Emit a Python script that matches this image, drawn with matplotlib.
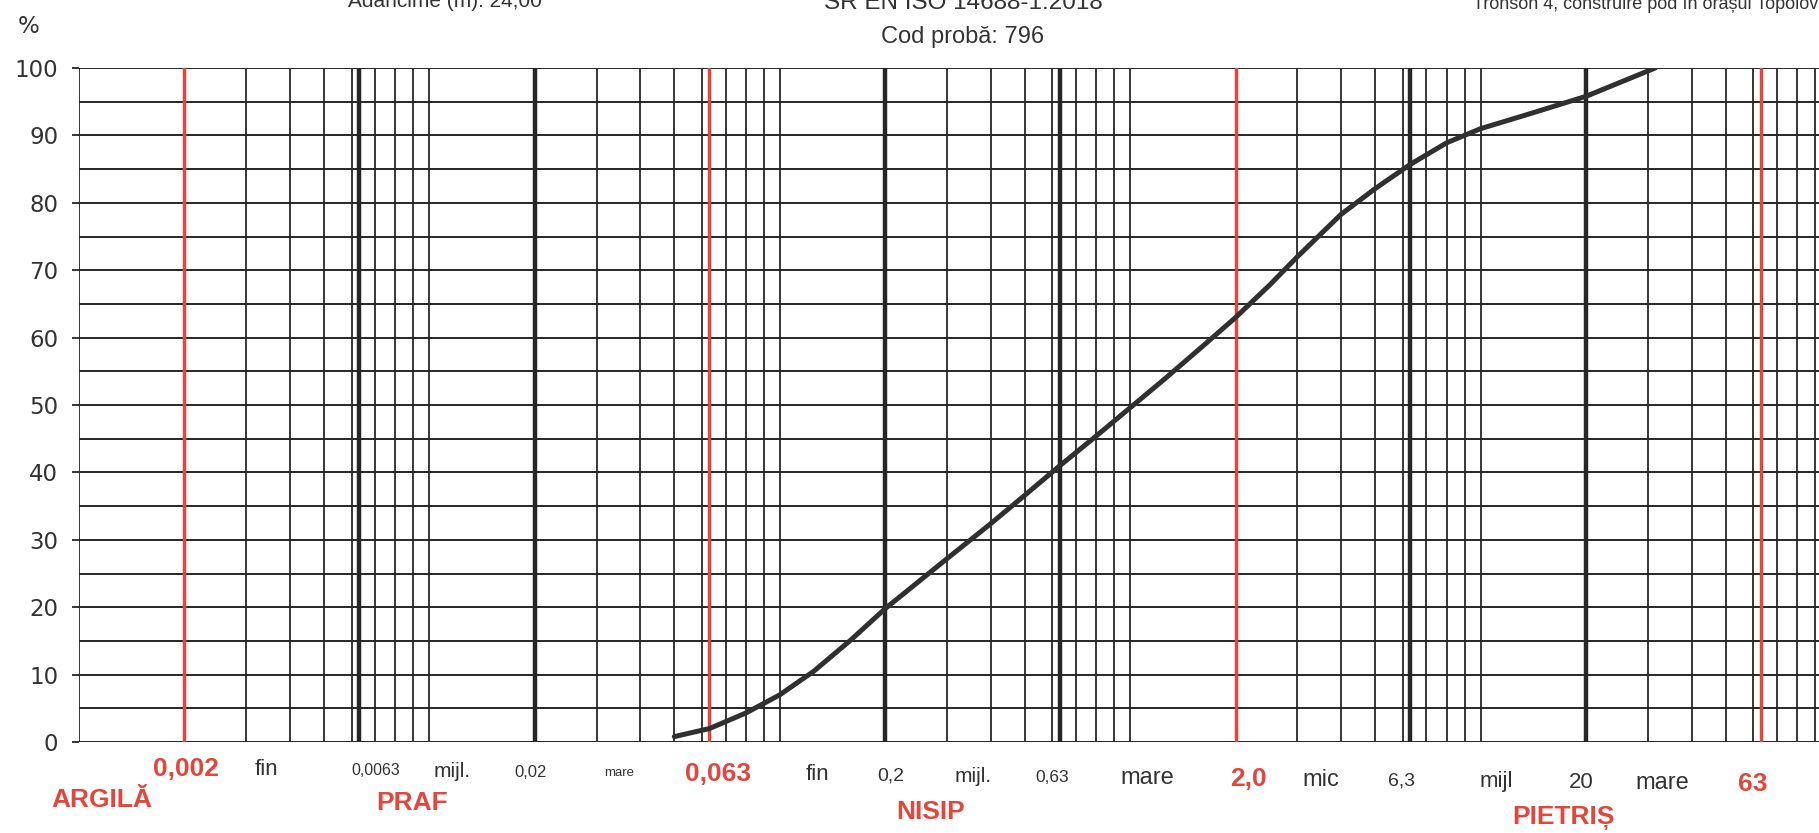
import numpy as np
import matplotlib.pyplot as plt
from matplotlib.transforms import blended_transform_factory

# curba granulometrica citita de pe scan (mm, % treceri)
grain_mm = [0.05, 0.063, 0.08, 0.1, 0.125, 0.16, 0.2, 0.3, 0.4, 0.5, 0.63,
            0.8, 1.0, 1.25, 1.6, 2.0, 2.5, 3.0, 4.0, 5.0, 6.3, 8.0, 10.0,
            14.0, 20.0, 31.5]
passing_pct = [0.8, 2.0, 4.3, 7.0, 10.5, 15.2, 19.8, 27.2, 32.4, 36.6, 41.0,
               45.4, 49.6, 53.8, 58.6, 63.0, 67.8, 72.0, 78.3, 82.1, 85.7, 88.9, 91.0,
               93.3, 95.8, 100.0]

# limite de fractiuni
red_limits = [0.002, 0.063, 2.0, 63.0]
thick_limits = [0.0063, 0.02, 0.2, 0.63, 6.3, 20.0]
decades = [0.001, 0.01, 0.1, 1.0, 10.0]
y_ticks = list(range(0, 101, 10))

size_labels = ["0,002", "fin", "0,0063", "mijl.", "0,02", "mare", "0,063", "fin",
               "0,2", "mijl.", "0,63", "mare", "2,0", "mic", "6,3", "mijl", "20",
               "mare", "63"]
fraction_labels = ["ARGILĂ", "PRAF", "NISIP", "PIETRIȘ"]

# asezarea etichetelor (pozitie pe axa granulelor, marime font)
size_label_x = [0.00202, 0.00342, 0.00704, 0.0116, 0.0195, 0.0348, 0.0666, 0.1277,
                0.2076, 0.356, 0.598, 1.117, 2.17, 3.51, 5.93, 11.07, 19.4, 33.0, 59.8]
size_label_fs = [19, 16, 11.5, 15, 12, 9.5, 19, 16, 14, 15, 12.5, 17, 19, 17, 14,
                 16, 16, 17, 19]
fraction_x = [0.00116, 0.0089, 0.27, 17.2]
fraction_y = [-0.086, -0.091, -0.104, -0.113]

RED = "#e2463c"
INK = "#262626"
TXT = "#333333"

plt.rcParams['font.family'] = ['Liberation Sans', 'DejaVu Sans']

fig = plt.figure(figsize=(18.19, 8.33), dpi=100)
fig.patch.set_facecolor("white")
# 0.001 .. 100 -> 5 decade de ~350 px
ax = fig.add_axes([79 / 1819, 1 - 742 / 833, 1752 / 1819, 674 / 833])
ax.set_xscale("log")
ax.set_xlim(0.001, 100)
ax.set_ylim(0, 100)
for s in ax.spines.values():
    s.set_visible(False)

# retea orizontala la 5 %
for y in range(0, 101, 5):
    ax.axhline(y, color=INK, lw=1.4, zorder=1)

# retea verticala logaritmica
for d in decades:
    for k in range(1, 10):
        ax.axvline(d * k, color=INK, lw=1.3, zorder=1)
ax.axvline(100, color=INK, lw=1.3, zorder=1)
for x in thick_limits:
    ax.axvline(x, color=INK, lw=3.2, zorder=2)
for x in red_limits:
    ax.axvline(x, color=RED, lw=2.5, zorder=3)

ax.plot(grain_mm, passing_pct, color="#303030", lw=3.6,
        solid_capstyle="round", solid_joinstyle="round", zorder=4)

ax.set_xticks([])
ax.set_xticks([], minor=True)
ax.set_yticks(y_ticks)
ax.set_yticklabels([str(v) for v in y_ticks], family="DejaVu Sans")
ax.tick_params(axis="y", length=5, width=1.3, color=INK, pad=10,
               labelsize=16.5, labelcolor=TXT)
ax.text(-0.029, 1.062, "%", transform=ax.transAxes, fontsize=16.5,
        family="DejaVu Sans", color=TXT, ha="center", va="center")

trans = blended_transform_factory(ax.transData, ax.transAxes)
for lab, x, fs in zip(size_labels, size_label_x, size_label_fs):
    is_red = lab in ("0,002", "0,063", "2,0", "63")
    frac = (np.log10(x) + 3) / 5
    ax.text(x, -0.038 - 0.026 * frac, lab, transform=trans, ha="center",
            va="center", fontsize=fs, color=RED if is_red else TXT,
            fontweight="bold" if is_red else "normal")
for lab, x, y in zip(fraction_labels, fraction_x, fraction_y):
    ax.text(x, y, lab, transform=trans, ha="center", va="center",
            fontsize=19, color=RED, fontweight="bold")

# antet (taiat de marginea de sus, ca in scan)
fig.text(445 / 1819, 1 - 7 / 833, "Adâncime (m): 24,00", ha="center",
         va="baseline", fontsize=15, color=TXT)
fig.text(963 / 1819, 1 - 9 / 833, "SR EN ISO 14688-1:2018", ha="center",
         va="baseline", fontsize=17.5, color=TXT)
fig.text(963 / 1819, 1 - 37 / 833, "Cod probă: 796", ha="center",
         va="center", fontsize=17, color=TXT)
fig.text(1473 / 1819, 1 - 9 / 833, "Tronson 4, construire pod în orașul Topoloveni",
         ha="left", va="baseline", fontsize=13, color=TXT)

fig.savefig("out.png", dpi=100, facecolor="white")
